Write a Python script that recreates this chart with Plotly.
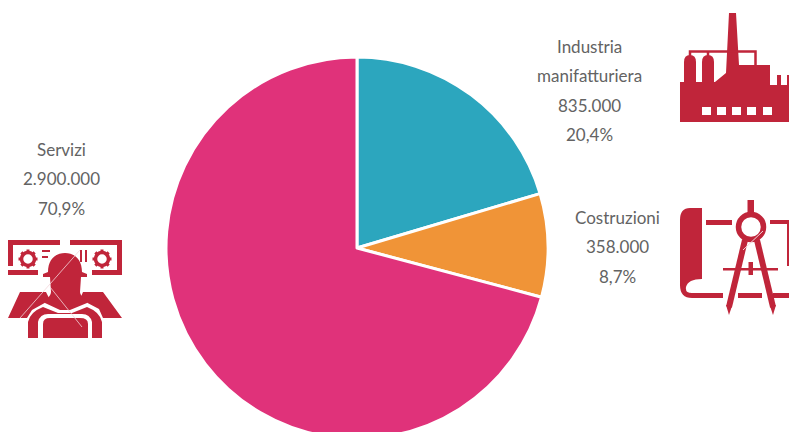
import plotly.graph_objects as go

# Employment by sector
categories = ["Industria manifatturiera", "Costruzioni", "Servizi"]
values = [835000, 358000, 2900000]
slice_colors = ["#2CA6BE", "#F09437", "#E0327A"]
label_lines = [
    ["Industria", "manifatturiera", "835.000", "20,4%"],
    ["Costruzioni", "358.000", "8,7%"],
    ["Servizi", "2.900.000", "70,9%"],
]
label_centers = [589, 617.5, 61.5]
label_first_baseline = [46.5, 217.5, 149.5]
line_step = 29.4

W, H = 789, 442
ICON = "#C0253A"
TEXT = "#636363"


def px(x):
    return x / W


def py(y):
    return 1 - y / H


def to_paper(d):
    """Turn an SVG path written in page pixels into paper coordinates."""
    out, is_x = [], True
    for tok in d.split():
        if tok.isalpha():
            out.append(tok)
            is_x = True
        else:
            v = float(tok)
            out.append(f"{px(v) if is_x else py(v):.5f}")
            is_x = not is_x
    return " ".join(out)


def solid(d, color=ICON):
    return dict(type="path", xref="paper", yref="paper", path=to_paper(d),
                fillcolor=color, line=dict(width=0), layer="above")


def stroke(d, width, color=ICON):
    return dict(type="path", xref="paper", yref="paper", path=to_paper(d),
                line=dict(width=width, color=color), layer="above")


def rect(x0, y0, x1, y1, color=ICON):
    return solid(f"M {x0} {y0} L {x1} {y0} L {x1} {y1} L {x0} {y1} Z", color)


def gear(cx, cy, r, color=ICON):
    parts = []
    for dx, dy in [(0, -1), (0.7, -0.7), (1, 0), (0.7, 0.7), (0, 1), (-0.7, 0.7), (-1, 0), (-0.7, -0.7)]:
        parts.append(stroke(f"M {cx + dx * (r - 3)} {cy + dy * (r - 3)} L {cx + dx * (r + 1)} {cy + dy * (r + 1)}", 3, color))
    k = (r - 2) * 0.55
    a = r - 2
    parts.append(stroke(f"M {cx - a} {cy} C {cx - a} {cy - k} {cx - k} {cy - a} {cx} {cy - a} "
                        f"C {cx + k} {cy - a} {cx + a} {cy - k} {cx + a} {cy} "
                        f"C {cx + a} {cy + k} {cx + k} {cy + a} {cx} {cy + a} "
                        f"C {cx - k} {cy + a} {cx - a} {cy + k} {cx - a} {cy} Z", 3.5, color))
    return parts


shapes = []

# Factory
shapes += [
    solid("M 680 122 L 680 82 L 715 82 L 726 73 L 729 13 L 736 13 L 739 65 L 770 65 L 770 85 L 777 85 "
          "L 777 75 L 781 75 L 781 85 L 787 85 L 787 75 L 789 75 L 789 122 Z"),
    solid("M 684 82 L 684 62 Q 684 55 690 55 Q 696 55 696 62 L 696 82 Z"),
    solid("M 702 82 L 702 62 Q 702 55 708 55 Q 714 55 714 62 L 714 82 Z"),
    stroke("M 690 56 L 690 51.5 L 755.5 51.5 L 755.5 65", 2.5),
    stroke("M 708 56 L 708 51.5", 2.5),
]
for wx in [702, 717, 732, 747, 763]:
    shapes.append(rect(wx, 107, wx + 9, 115, "#FFFFFF"))

# Drafting compass on a blueprint
shapes += [
    solid("M 702 208 L 690 208 Q 680 208 680 220 L 680 285 Q 680 298 692 298 L 723 298 L 723 293 "
          "L 692 293 Q 685 293 686 287 Q 688 279 702 279 Z"),
    rect(706, 220, 732, 225),
    rect(770, 220, 787, 224),
    rect(787, 220, 789, 266),
    rect(738, 293, 762, 298),
    rect(773, 293, 789, 298),
    rect(747.5, 200, 754, 216),
    stroke("M 738.5 227 C 738.5 220 744 214.5 751 214.5 C 758 214.5 763.5 220 763.5 227 "
           "C 763.5 234 758 239.5 751 239.5 C 744 239.5 738.5 234 738.5 227 Z", 5.5),
    stroke("M 745 240 L 729 307", 6),
    stroke("M 757 240 L 773 307", 6),
    solid("M 726 305 L 732 306 L 729 315 Z"),
    solid("M 770 306 L 776 305 L 773 315 Z"),
    rect(723, 268, 778, 270.5),
    rect(748.5, 262, 753, 275),
    stroke("M 743 250 L 763 231", 1, "#F3D5DA"),
]

# Technician in front of two monitors
shapes += [
    rect(8, 240, 60, 245), rect(8, 240, 13, 266), rect(8, 270, 38, 275),
    rect(70, 240, 122, 245), rect(117, 240, 122, 275), rect(92, 270, 122, 275),
    rect(42, 250, 50, 252), rect(42, 256, 48, 258), rect(80, 250, 82, 262), rect(85, 250, 87, 262),
    solid("M 20 292 L 46 292 L 50 300 L 32 310 L 27 318 L 8 318 Z"),
    solid("M 83 292 L 103 292 L 122 318 L 103 318 L 99 309 L 80 299 Z"),
    solid("M 48 272 C 48 260 55 253 65 253 C 75 253 82 260 82 272 L 87 274 L 87 277 L 81 277 L 80 292 Q 80 296 87 300 "
          "L 87 303 L 70 310 L 60 310 L 45 303 L 45 300 Q 51 296 51 292 L 50 277 L 43 277 L 43 274 Z"),
    solid("M 28 338 L 28 322 Q 30 312 43 307 L 58 313 L 72 313 L 87 307 Q 100 312 102 322 L 102 338 "
          "L 92 338 L 92 322 Q 90 314 82 314 L 48 314 Q 40 314 38 322 L 38 338 Z"),
    solid("M 43 338 L 43 324 Q 43 318 50 318 L 80 318 Q 88 318 88 324 L 88 338 Z"),
    stroke("M 20 318 L 80 250", 0.8, "#F3D5DA"),
    stroke("M 50 287 L 82 327", 0.8, "#F3D5DA"),
]
shapes += gear(28, 259, 8.5) + gear(102, 259, 8.5)

annotations = []
for lines, cx, y0 in zip(label_lines, label_centers, label_first_baseline):
    for i, line in enumerate(lines):
        annotations.append(dict(text=line, xref="paper", yref="paper", x=px(cx), y=py(y0 + i * line_step),
                                xanchor="center", yanchor="middle", showarrow=False,
                                font=dict(family="Lato, Carlito, sans-serif", size=17, color=TEXT)))

fig = go.Figure(go.Pie(
    labels=categories, values=values, sort=False, direction="clockwise", rotation=0,
    marker=dict(colors=slice_colors, line=dict(color="#FFFFFF", width=3)),
    textinfo="none", hoverinfo="label+value+percent", showlegend=False,
    domain=dict(x=[px(166), px(548)], y=[py(439), py(57)]),
))
fig.update_layout(width=W, height=H, margin=dict(l=0, r=0, t=0, b=0),
                  paper_bgcolor="#FFFFFF", shapes=shapes, annotations=annotations)

fig.write_html("out.html", post_script="document.documentElement.style.overflow='hidden';document.body.style.overflow='hidden';")
